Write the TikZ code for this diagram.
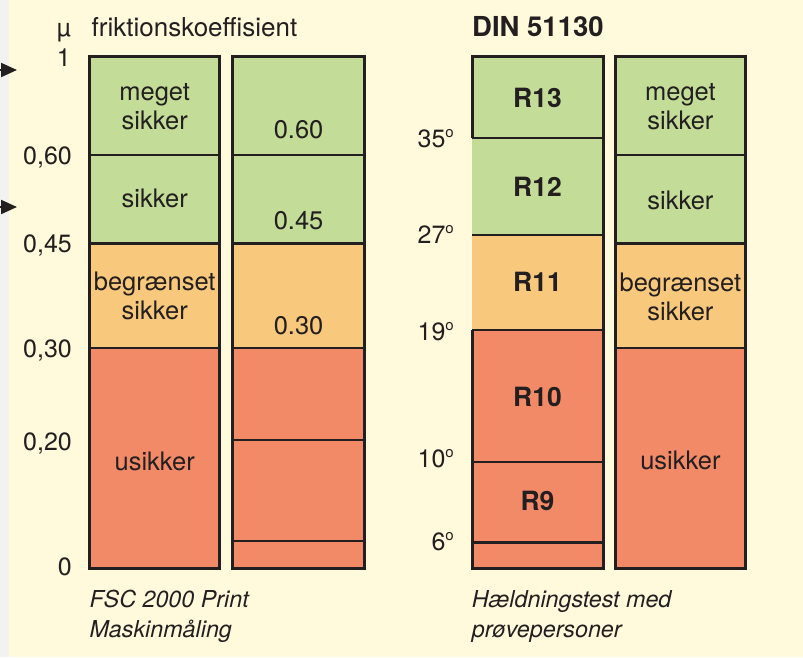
\documentclass[tikz,border=0pt]{standalone}
\usepackage{fontspec}
\setmainfont{TeX Gyre Heros}
\usetikzlibrary{arrows.meta}
\definecolor{bg}{HTML}{FFFADC}
\definecolor{grn}{HTML}{C3DC97}
\definecolor{yel}{HTML}{F8C87C}
\definecolor{sal}{HTML}{F38A67}
\definecolor{ink}{HTML}{231F20}
\definecolor{strip}{HTML}{F2F2F0}
\newcommand{\dg}{\raisebox{10pt}{\fontsize{15}{15}\selectfont o}}
\begin{document}
\begin{tikzpicture}[x=1pt,y=-1pt,
  frame/.style={draw=ink, line width=3pt},
  divider/.style={draw=ink, line width=2.7pt},
  lab/.style={font=\fontsize{25.5}{29}\selectfont, text=ink, align=center, inner sep=0pt, anchor=base},
  blab/.style={font=\fontsize{26.5}{29}\selectfont\bfseries, text=ink, inner sep=0pt, anchor=base},
  axl/.style={font=\fontsize{25}{29}\selectfont, text=ink, inner sep=0pt, anchor=base east},
  ttl/.style={font=\fontsize{26}{29}\selectfont, text=ink, inner sep=0pt, anchor=base west},
  captext/.style={font=\fontsize{23.3}{31}\selectfont\itshape, text=ink, inner sep=0pt, anchor=base west},
  arr/.style={draw=ink, line width=2pt, -{Triangle[length=16pt,width=14pt]}}]
\useasboundingbox (0,0) rectangle (803,657);
\fill[bg] (0,0) rectangle (803,657);
\fill[strip] (0,0) rectangle (9,657);

% column 1
\fill[grn] (89.7,56) rectangle (219.7,243.5);
\fill[yel] (89.7,243.5) rectangle (219.7,348);
\fill[sal] (89.7,348) rectangle (219.7,568);
\draw[divider] (89.7,155) -- (219.7,155);
\draw[divider] (89.7,243.5) -- (219.7,243.5);
\draw[divider] (89.7,348) -- (219.7,348);
\draw[frame] (89.7,56) rectangle (219.7,568);

% column 2
\fill[grn] (232.8,56) rectangle (364.5,243.5);
\fill[yel] (232.8,243.5) rectangle (364.5,348);
\fill[sal] (232.8,348) rectangle (364.5,568);
\draw[divider] (232.8,155) -- (364.5,155);
\draw[divider] (232.8,243.5) -- (364.5,243.5);
\draw[divider] (232.8,348) -- (364.5,348);
\draw[divider] (232.8,440) -- (364.5,440);
\draw[divider] (232.8,541) -- (364.5,541);
\draw[frame] (232.8,56) rectangle (364.5,568);

% column 3
\fill[grn] (472,56) rectangle (603,235);
\fill[yel] (472,235) rectangle (603,330);
\fill[sal] (472,330) rectangle (603,568);
\draw[divider] (472,138) -- (603,138);
\draw[divider] (472,235) -- (603,235);
\draw[divider] (472,330) -- (603,330);
\draw[divider] (472,462) -- (603,462);
\draw[divider] (472,542.5) -- (603,542.5);
\draw[frame] (472,138) -- (472,56) -- (603,56) -- (603,568) -- (472,568) -- (472,330);

% column 4
\fill[grn] (615.3,56) rectangle (745.5,243.5);
\fill[yel] (615.3,243.5) rectangle (745.5,348);
\fill[sal] (615.3,348) rectangle (745.5,568);
\draw[divider] (615.3,155) -- (745.5,155);
\draw[divider] (615.3,243.5) -- (745.5,243.5);
\draw[divider] (615.3,348) -- (745.5,348);
\draw[frame] (615.3,56) rectangle (745.5,568);

% column texts
\node[lab] (c1a) at (154.7,129) {meget\\sikker};
\node[lab] (c1b) at (154.7,207) {sikker};
\node[lab] (c1c) at (154.7,319) {begrænset\\sikker};
\node[lab] (c1d) at (154.7,470) {usikker};

\node[lab] (c2a) at (298.6,138) {0.60};
\node[lab] (c2b) at (298.6,229) {0.45};
\node[lab] (c2c) at (298.6,334) {0.30};

\node[blab] (c3a) at (537.5,107) {R13};
\node[blab] (c3b) at (537.5,196) {R12};
\node[blab] (c3c) at (537.5,291) {R11};
\node[blab] (c3d) at (537.5,406) {R10};
\node[blab] (c3e) at (537.5,510) {R9};

\node[lab] (c4a) at (680.4,129) {meget\\sikker};
\node[lab] (c4b) at (680.4,209) {sikker};
\node[lab] (c4c) at (680.4,320) {begrænset\\sikker};
\node[lab] (c4d) at (680.4,469) {usikker};

% left axis
\node[axl] (mu) at (71,36) {µ};
\node[axl] (a1) at (71,66) {1};
\node[axl] (a60) at (72,164) {0,60};
\node[axl] (a45) at (72,252) {0,45};
\node[axl] (a30) at (72,357) {0,30};
\node[axl] (a20) at (72,450) {0,20};
\node[axl] (a0) at (72,575) {0};

% right axis
\node[axl] (d35) at (454,147) {35\dg};
\node[axl] (d27) at (454,243) {27\dg};
\node[axl] (d19) at (454,340) {19\dg};
\node[axl] (d10) at (454,467) {10\dg};
\node[axl] (d6) at (454,550) {6\dg};

% titles
\node[ttl] (t1) at (91.5,36) {friktionskoeffisient};
\node[ttl, font=\fontsize{27.5}{29}\selectfont\bfseries] (t2) at (472,36) {DIN 51130};

% captions
\node[captext] (k1) at (89.3,607) {FSC 2000 Print};
\node[captext] (k2) at (89.3,637.5) {Maskinmåling};
\node[captext] (k3) at (471.7,607) {Hældningstest med};
\node[captext] (k4) at (471.7,637.5) {prøvepersoner};

% arrows at left edge
\coordinate (p1s) at (-4,70);
\coordinate (p1e) at (17,70);
\coordinate (p2s) at (-4,207);
\coordinate (p2e) at (17,207);
\draw[arr] (p1s) -- (p1e);
\draw[arr] (p2s) -- (p2e);
\end{tikzpicture}
\end{document}
